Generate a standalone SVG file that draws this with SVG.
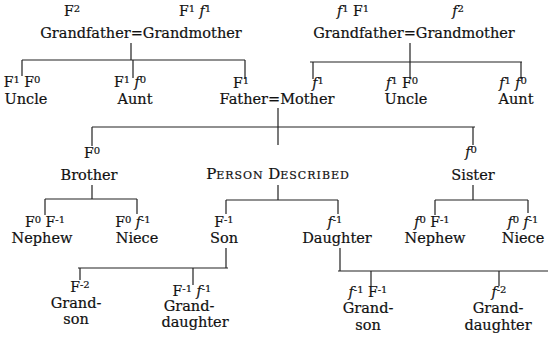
<svg xmlns="http://www.w3.org/2000/svg" width="548" height="340" viewBox="0 0 548 340">
  <style>
    text { font-family: "DejaVu Serif", "Liberation Serif", serif; fill: #111; stroke: #111; stroke-width: 0.2; text-anchor: middle; }
    .n { font-size: 14.5px; }
    .s { font-size: 14px; }
    .sup { font-size: 10px; }
    .i { font-style: italic; }
    .cap { font-size: 15px; }
    .sc { font-size: 11px; letter-spacing: 1px; }
    .ln { stroke: #222; stroke-width: 1.2; fill: none; }
  </style>
  <rect width="548" height="340" fill="#fff"/>

  <!-- connectors -->
  <g id="connectors" class="ln">
    <!-- paternal grandparents to children -->
    <path d="M131 43V60M22 60H245M22 60V76M133 60V78M245 60V79"/>
    <!-- maternal grandparents to children -->
    <path d="M410 43V62M310 62H522M313 62V79M410 62V79M521 62V79"/>
    <!-- parents to children -->
    <path d="M278 108V127M92 127H475M92 127V146M278 127V145M473 127V145"/>
    <!-- brother's children -->
    <path d="M92 185V199M45 199H137M45 199V215M137 199V214"/>
    <!-- person described's children -->
    <path d="M278 185V200M226 200H338M226 200V214M338 200V214"/>
    <!-- sister's children -->
    <path d="M473 185V200M435 200H528M435 200V215M528 200V213"/>
    <!-- son's children -->
    <path d="M226 248V268M78 268H228M80 268V280M193 268V285"/>
    <!-- daughter's children -->
    <path d="M340 248V271M338 271H548M371 271V286M499 271V286"/>
  </g>

  <!-- paternal grandparents -->
  <g id="paternal-grandparents">
    <text class="s" x="72" y="16">F<tspan class="sup" dy="-4">2</tspan></text>
    <text class="s" x="195" y="16">F<tspan class="sup" dy="-4">1</tspan><tspan class="i" dy="4"> f</tspan><tspan class="sup" dy="-4">1</tspan></text>
    <text class="n" x="141" y="38">Grandfather=Grandmother</text>
  </g>

  <!-- maternal grandparents -->
  <g id="maternal-grandparents">
    <text class="s" x="353" y="16"><tspan class="i">f</tspan><tspan class="sup" dy="-4">1</tspan><tspan dy="4"> F</tspan><tspan class="sup" dy="-4">1</tspan></text>
    <text class="s" x="458" y="16"><tspan class="i">f</tspan><tspan class="sup" dy="-4">2</tspan></text>
    <text class="n" x="414" y="38">Grandfather=Grandmother</text>
  </g>

  <g id="paternal-uncle">
    <text class="s" x="22" y="87">F<tspan class="sup" dy="-4">1</tspan><tspan dy="4"> F</tspan><tspan class="sup" dy="-4">0</tspan></text>
    <text class="n" x="26" y="104">Uncle</text>
  </g>

  <g id="paternal-aunt">
    <text class="s" x="130" y="87">F<tspan class="sup" dy="-4">1</tspan><tspan class="i" dy="4"> f</tspan><tspan class="sup" dy="-4">0</tspan></text>
    <text class="n" x="135" y="104">Aunt</text>
  </g>

  <g id="parents">
    <text class="s" x="241" y="88">F<tspan class="sup" dy="-4">1</tspan></text>
    <text class="s" x="318" y="88"><tspan class="i">f</tspan><tspan class="sup" dy="-4">1</tspan></text>
    <text class="n" x="277" y="104">Father=Mother</text>
  </g>

  <g id="maternal-uncle">
    <text class="s" x="402" y="88"><tspan class="i">f</tspan><tspan class="sup" dy="-4">1</tspan><tspan dy="4"> F</tspan><tspan class="sup" dy="-4">0</tspan></text>
    <text class="n" x="406" y="104">Uncle</text>
  </g>

  <g id="maternal-aunt">
    <text class="s" x="513" y="88"><tspan class="i">f</tspan><tspan class="sup" dy="-4">1</tspan><tspan class="i" dy="4"> f</tspan><tspan class="sup" dy="-4">0</tspan></text>
    <text class="n" x="516" y="104">Aunt</text>
  </g>

  <g id="brother">
    <text class="s" x="92" y="158">F<tspan class="sup" dy="-4">0</tspan></text>
    <text class="n" x="89" y="180">Brother</text>
  </g>

  <g id="person-described">
    <text x="278" y="179"><tspan class="cap">P</tspan><tspan class="sc">ERSON </tspan><tspan class="cap">D</tspan><tspan class="sc">ESCRIBED</tspan></text>
  </g>

  <g id="sister">
    <text class="s" x="471" y="157"><tspan class="i">f</tspan><tspan class="sup" dy="-4">0</tspan></text>
    <text class="n" x="473" y="180">Sister</text>
  </g>

  <g id="nephew-brother">
    <text class="s" x="45" y="227">F<tspan class="sup" dy="-4">0</tspan><tspan dy="4"> F</tspan><tspan class="sup" dy="-4">-1</tspan></text>
    <text class="n" x="42" y="243">Nephew</text>
  </g>

  <g id="niece-brother">
    <text class="s" x="133" y="227">F<tspan class="sup" dy="-4">0</tspan><tspan class="i" dy="4"> f</tspan><tspan class="sup" dy="-4">-1</tspan></text>
    <text class="n" x="137" y="243">Niece</text>
  </g>

  <g id="son">
    <text class="s" x="224" y="227">F<tspan class="sup" dy="-4">-1</tspan></text>
    <text class="n" x="224" y="243">Son</text>
  </g>

  <g id="daughter">
    <text class="s" x="335" y="227"><tspan class="i">f</tspan><tspan class="sup" dy="-4">-1</tspan></text>
    <text class="n" x="337" y="243">Daughter</text>
  </g>

  <g id="nephew-sister">
    <text class="s" x="432" y="227"><tspan class="i">f</tspan><tspan class="sup" dy="-4">0</tspan><tspan dy="4"> F</tspan><tspan class="sup" dy="-4">-1</tspan></text>
    <text class="n" x="435" y="243">Nephew</text>
  </g>

  <g id="niece-sister">
    <text class="s" x="523" y="227"><tspan class="i">f</tspan><tspan class="sup" dy="-4">0</tspan><tspan class="i" dy="4"> f</tspan><tspan class="sup" dy="-4">-1</tspan></text>
    <text class="n" x="523" y="243">Niece</text>
  </g>

  <g id="grandson-son">
    <text class="s" x="80" y="292">F<tspan class="sup" dy="-4">-2</tspan></text>
    <text class="n" x="76" y="308">Grand-</text>
    <text class="n" x="76" y="324">son</text>
  </g>

  <g id="granddaughter-son">
    <text class="s" x="192" y="296">F<tspan class="sup" dy="-4">-1</tspan><tspan class="i" dy="4"> f</tspan><tspan class="sup" dy="-4">-1</tspan></text>
    <text class="n" x="189" y="311">Grand-</text>
    <text class="n" x="195" y="327">daughter</text>
  </g>

  <g id="grandson-daughter">
    <text class="s" x="368" y="297"><tspan class="i">f</tspan><tspan class="sup" dy="-4">-1</tspan><tspan dy="4"> F</tspan><tspan class="sup" dy="-4">-1</tspan></text>
    <text class="n" x="368" y="313">Grand-</text>
    <text class="n" x="368" y="330">son</text>
  </g>

  <g id="granddaughter-daughter">
    <text class="s" x="499" y="297"><tspan class="i">f</tspan><tspan class="sup" dy="-4">-2</tspan></text>
    <text class="n" x="498" y="313">Grand-</text>
    <text class="n" x="498" y="330">daughter</text>
  </g>
</svg>
